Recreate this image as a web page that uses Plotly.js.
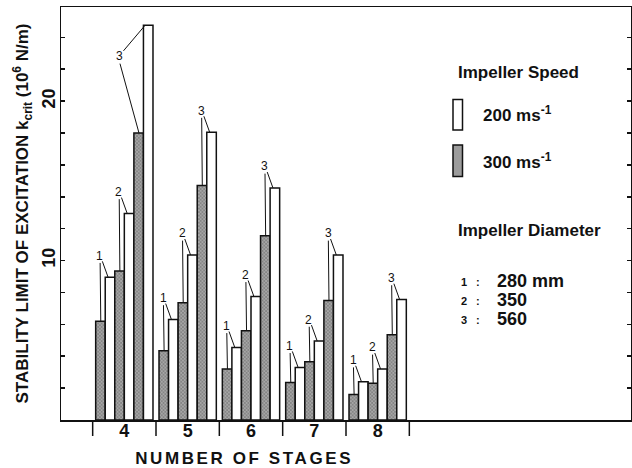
<!DOCTYPE html>
<html>
<head>
<meta charset="utf-8">
<script src="https://cdn.plot.ly/plotly-3.0.1.min.js"></script>
<style>
  html, body { margin: 0; padding: 0; background: #fff; }
  #chart { width: 632px; height: 468px; }
</style>
</head>
<body>
<div id="chart"></div>
<script>
// ---- data (k_crit, 10^6 N/m) ----
const stages = [4, 5, 6, 7, 8];
const stageLabels = ['4', '5', '6', '7', '8'];
const diameterIds = ['1', '2', '3'];
const diameterLabels = ['280 mm', '350', '560'];
const speedLabels = ['200 ms<sup>-1</sup>', '300 ms<sup>-1</sup>'];
const yTickLabelValues = [10, 20];

const k300_d280 = [6.2, 4.35, 3.2, 2.35, 1.6];
const k200_d280 = [8.95, 6.3, 4.55, 3.3, 2.4];
const k300_d350 = [9.35, 7.35, 5.6, 3.65, 2.3];
const k200_d350 = [12.95, 10.35, 7.75, 4.95, 3.2];
const k300_d560 = [18.0, 14.7, 11.55, 7.5, 5.35];
const k200_d560 = [24.75, 18.05, 14.55, 10.35, 7.55];

const hatched = [k300_d280, k300_d350, k300_d560];
const white = [k200_d280, k200_d350, k200_d560];

// ---- geometry / style ----
const FONT = 'Liberation Sans, Arial, Helvetica, sans-serif';
const M = { l: 61, r: 1, t: 7, b: 48 };
const W = 632, H = 468;
const PW = W - M.l - M.r, PH = H - M.t - M.b;
const px = X => (X - M.l) / PW;
const py = Y => (H - M.b - Y) / PH;
const YMAX = 25.9;
const BARGAP = 0.095;
const NB = 6;
const bw = (1 - BARGAP) / NB;
const off = i => -(1 - BARGAP) / 2 + (i + 0.5) * bw;

const hatchMarker = {
  color: '#959595',
  line: { color: '#111', width: 1.5 },
  pattern: { shape: 'x', size: 2.5, solidity: 0.3, fgcolor: '#5e5e5e', bgcolor: '#a6a6a6', fillmode: 'replace' }
};
const whiteMarker = { color: '#ffffff', line: { color: '#111', width: 1.5 } };

const traces = [];
for (let d = 0; d < 3; d++) {
  traces.push({ type: 'bar', x: stages, y: hatched[d], name: speedLabels[1] + ' ' + diameterLabels[d],
    marker: hatchMarker, showlegend: false, hoverinfo: 'x+y' });
  traces.push({ type: 'bar', x: stages, y: white[d], name: speedLabels[0] + ' ' + diameterLabels[d],
    marker: whiteMarker, showlegend: false, hoverinfo: 'x+y' });
}

const shapes = [];
const annotations = [];
const lineStyle = { color: '#111', width: 1 };

// leader lines + labels 1,2,3
stages.forEach((s, j) => {
  for (let d = 0; d < 3; d++) {
    const hv = hatched[d][j], wv = white[d][j];
    const xh = s + off(2 * d), xw = s + off(2 * d + 1);
    let lx = xh - 0.01, ly = wv + 1.35;
    let special = false;
    if (ly > 23.5) { special = true; lx = xh - 0.30; ly = wv - 1.95; }
    annotations.push({ x: lx, y: ly, xref: 'x', yref: 'y', text: diameterIds[d], showarrow: false,
      font: { family: FONT, size: 12, color: '#111' }, xanchor: 'center', yanchor: 'middle' });
    shapes.push({ type: 'line', xref: 'x', yref: 'y', x0: lx + 0.005, y0: ly - 0.45, x1: xh + 0.005, y1: hv, line: lineStyle });
    if (special) {
      shapes.push({ type: 'line', xref: 'x', yref: 'y', x0: lx + 0.06, y0: ly + 0.35, x1: xw - 0.05, y1: wv, line: lineStyle });
    } else {
      shapes.push({ type: 'line', xref: 'x', yref: 'y', x0: lx + 0.04, y0: ly - 0.35, x1: xw - 0.03, y1: wv, line: lineStyle });
    }
  }
});

// group separator ticks below axis
const seps = stages.map(s => s - 0.5).concat([stages[stages.length - 1] + 0.5]);
seps.forEach(xs => shapes.push({ type: 'line', xref: 'x', yref: 'paper', x0: xs, x1: xs, y0: 0, y1: -16 / PH,
  line: { color: '#111', width: 1.5 } }));

// x title
const XTITLE = 'NUMBER OF STAGES';
annotations.push({ xref: 'paper', yref: 'paper', x: px(244), y: py(458.5), text: XTITLE,
  showarrow: false, xanchor: 'center', yanchor: 'middle', font: { family: FONT, size: 17, color: '#111', weight: 700 } });

// custom legend
const lf = { family: FONT, size: 17, color: '#111', weight: 700 };
annotations.push({ xref: 'paper', yref: 'paper', x: px(456), y: py(72.5), text: 'Impeller Speed', showarrow: false,
  xanchor: 'left', yanchor: 'middle', font: lf });
shapes.push({ type: 'rect', xref: 'paper', yref: 'paper', x0: px(453), x1: px(462.5), y0: py(130), y1: py(99.5),
  fillcolor: '#fff', line: { color: '#111', width: 1.5 } });
shapes.push({ type: 'rect', xref: 'paper', yref: 'paper', x0: px(453), x1: px(462.5), y0: py(176.5), y1: py(145),
  fillcolor: '#9c9c9c', line: { color: '#111', width: 1.5 } });
annotations.push({ xref: 'paper', yref: 'paper', x: px(481), y: py(114), text: speedLabels[0], showarrow: false,
  xanchor: 'left', yanchor: 'middle', font: lf });
annotations.push({ xref: 'paper', yref: 'paper', x: px(481), y: py(161), text: speedLabels[1], showarrow: false,
  xanchor: 'left', yanchor: 'middle', font: lf });
annotations.push({ xref: 'paper', yref: 'paper', x: px(456), y: py(230), text: 'Impeller Diameter', showarrow: false,
  xanchor: 'left', yanchor: 'middle', font: lf });
const rowY = [281, 299.5, 318.5];
diameterIds.forEach((id, d) => {
  annotations.push({ xref: 'paper', yref: 'paper', x: px(464), y: py(rowY[d] + 1), text: id, showarrow: false,
    xanchor: 'center', yanchor: 'middle', font: { family: FONT, size: 11, color: '#111', weight: 700 } });
  annotations.push({ xref: 'paper', yref: 'paper', x: px(478), y: py(rowY[d] + 1), text: ':', showarrow: false,
    xanchor: 'center', yanchor: 'middle', font: { family: FONT, size: 11, color: '#111', weight: 700 } });
  annotations.push({ xref: 'paper', yref: 'paper', x: px(495), y: py(rowY[d]), text: diameterLabels[d], showarrow: false,
    xanchor: 'left', yanchor: 'middle', font: { family: FONT, size: 18, color: '#111', weight: 700 } });
});

const layout = {
  width: W, height: H,
  margin: M,
  paper_bgcolor: '#fff', plot_bgcolor: '#fff',
  barmode: 'group', bargap: BARGAP, bargroupgap: 0,
  font: { family: FONT, color: '#111' },
  xaxis: {
    range: [3, 12], showgrid: false, zeroline: false,
    showline: true, linecolor: '#111', linewidth: 1.5, mirror: true,
    tickmode: 'array', tickvals: stages, ticktext: stageLabels, ticks: '',
    tickfont: { family: FONT, size: 18, color: '#111', weight: 700 },
    ticklabelstandoff: -6
  },
  yaxis: {
    range: [0, YMAX], showgrid: false, zeroline: false,
    showline: true, linecolor: '#111', linewidth: 1.5, mirror: 'ticks',
    tickmode: 'array', tickvals: yTickLabelValues,
    ticks: 'inside', ticklen: 4, tickwidth: 1.5, tickcolor: '#111',
    minor: { tick0: 0, dtick: 2, ticks: 'inside', ticklen: 4, tickwidth: 1.5, tickcolor: '#111', showgrid: false },
    tickangle: -90,
    ticklabelstandoff: -3,
    tickfont: { family: FONT, size: 18, color: '#111', weight: 700 },
    title: { text: 'STABILITY LIMIT OF EXCITATION k<sub>crit</sub> (10<sup>6</sup> N/m)',
      font: { family: FONT, size: 17, color: '#111', weight: 700 }, standoff: 6 }
  },
  shapes: shapes,
  annotations: annotations
};

Plotly.newPlot('chart', traces, layout, { staticPlot: true, displayModeBar: false }).then(gd => {
  document.querySelectorAll('text.annotation-text').forEach(t => {
    if (t.textContent === XTITLE) t.style.letterSpacing = '2.6px';
  });
});
</script>
</body>
</html>
